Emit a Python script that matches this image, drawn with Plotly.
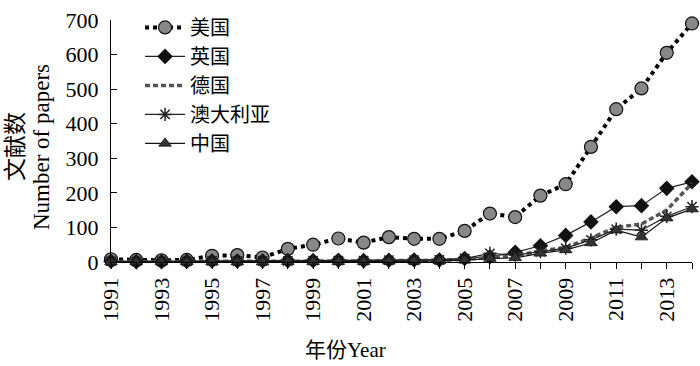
import plotly.graph_objects as go

years = list(range(1991, 2015))
usa = [8, 6, 5, 6, 18, 20, 13, 38, 50, 68, 56, 72, 67, 67, 90, 140, 130, 192, 225, 333, 442, 502, 605, 690]
uk = [2, 1, 1, 2, 3, 3, 3, 4, 4, 5, 4, 5, 6, 6, 10, 15, 28, 47, 77, 116, 160, 163, 213, 232]
germany = [1, 1, 1, 1, 2, 2, 2, 2, 3, 3, 3, 4, 4, 5, 8, 13, 18, 32, 42, 70, 100, 110, 150, 228]
australia = [2, 2, 2, 2, 3, 3, 3, 3, 4, 4, 4, 5, 5, 6, 10, 25, 20, 30, 40, 64, 95, 92, 132, 160]
china = [0, 0, 0, 0, 0, 0, 0, 1, 1, 1, 1, 2, 2, 3, 5, 10, 12, 25, 35, 55, 92, 72, 127, 153]
names = ["美国", "英国", "德国", "澳大利亚", "中国"]
xticks = list(range(1991, 2015, 2))
yticks = list(range(0, 701, 100))

FONT = "Liberation Serif, Times New Roman, Noto Sans CJK SC, serif"

fig = go.Figure()
fig.add_trace(go.Scatter(x=years, y=usa, name=names[0], mode="lines+markers",
                         line=dict(color="black", width=4, dash="dot"),
                         marker=dict(symbol="circle", size=13, color="#8a8788",
                                     line=dict(color="#111", width=1.2)),
                         cliponaxis=False))
fig.add_trace(go.Scatter(x=years, y=uk, name=names[1], mode="lines+markers",
                         line=dict(color="#222", width=1.2),
                         marker=dict(symbol="diamond", size=12, color="#111"),
                         cliponaxis=False))
fig.add_trace(go.Scatter(x=years, y=germany, name=names[2], mode="lines",
                         line=dict(color="#555", width=3.5, dash="5px,3px"),
                         cliponaxis=False))
fig.add_trace(go.Scatter(x=years, y=australia, name=names[3], mode="lines+markers",
                         line=dict(color="#222", width=1.2),
                         marker=dict(symbol="asterisk-open", size=11,
                                     line=dict(color="#111", width=1.5)),
                         cliponaxis=False))
fig.add_trace(go.Scatter(x=years, y=china, name=names[4], mode="lines+markers",
                         line=dict(color="#111", width=1.2),
                         marker=dict(symbol="triangle-up", size=11, color="#333",
                                     line=dict(color="#111", width=0.8)),
                         cliponaxis=False))

fig.update_layout(
    width=700, height=366,
    margin=dict(l=111, r=8, t=10, b=104),
    paper_bgcolor="white", plot_bgcolor="white",
    font=dict(family=FONT, size=22, color="black"),
    showlegend=True,
    legend=dict(x=0.05, y=1.05, xanchor="left", yanchor="top",
                bgcolor="rgba(0,0,0,0)", font=dict(size=20, family=FONT),
                tracegroupgap=0, itemwidth=40),
    xaxis=dict(range=[1991, 2014], tickmode="array", tickvals=xticks,
               ticktext=[str(v) for v in xticks], tickangle=-90,
               showline=True, linecolor="black", linewidth=1,
               ticks="outside", ticklen=6, tickcolor="black",
               minor=dict(dtick=1, tick0=1991, ticks="outside", ticklen=6, tickcolor="black"),
               showgrid=False, zeroline=False, tickfont=dict(size=22),
               ticklabeloverflow="allow"),
    yaxis=dict(range=[0, 700], tickmode="array", tickvals=yticks,
               showline=True, linecolor="black", linewidth=1,
               ticks="inside", ticklen=6, tickcolor="black",
               showgrid=False, zeroline=False,
               tickfont=dict(size=22), ticklabelstandoff=7,
               ticklabeloverflow="allow"),
    annotations=[
        dict(text="年份Year", xref="paper", yref="paper", x=0.403, y=-0.362,
             xanchor="center", yanchor="middle", showarrow=False,
             font=dict(size=21, family=FONT)),
        dict(text="文献数", xref="paper", yref="paper", x=0, y=0.5, xshift=-96, yshift=-6,
             xanchor="center", yanchor="middle", textangle=-90, showarrow=False,
             font=dict(size=23, family=FONT)),
        dict(text="Number of papers", xref="paper", yref="paper", x=0, y=0.5, xshift=-70, yshift=-6,
             xanchor="center", yanchor="middle", textangle=-90, showarrow=False,
             font=dict(size=23, family=FONT)),
    ],
)

fig.write_html("out.html", config={"displayModeBar": False},
               post_script="document.body.style.margin='0';document.body.style.overflow='hidden';")
